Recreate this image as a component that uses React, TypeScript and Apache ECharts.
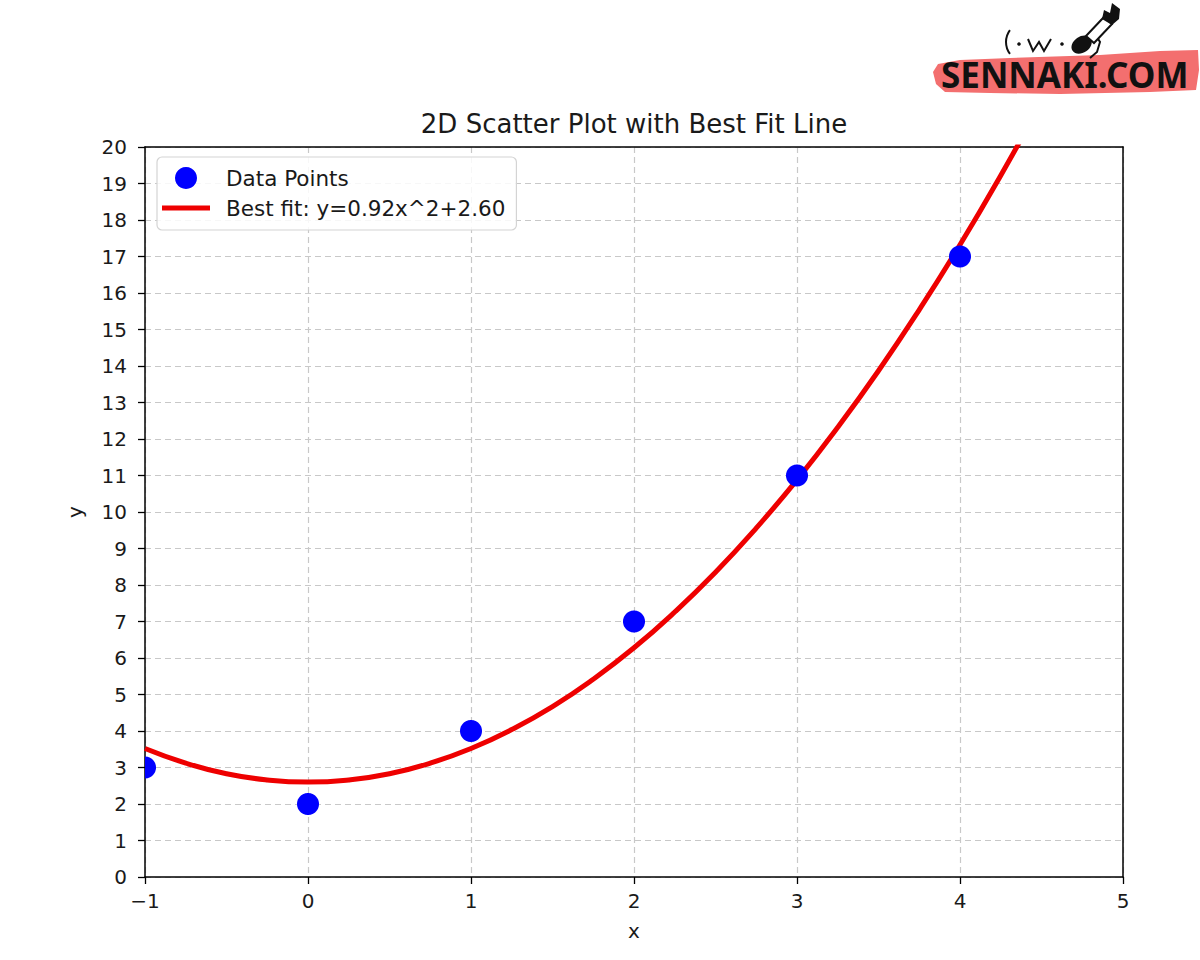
import React, { useEffect, useRef } from "react";
import * as echarts from "echarts";

// Scatter data
const pointX = [-1, 0, 1, 2, 3, 4];
const pointY = [3, 2, 4, 7, 11, 17];

// Best-fit curve
const fitX = [-1, -0.75, -0.5, -0.25, 0, 0.25, 0.5, 0.75, 1, 1.25, 1.5, 1.75, 2, 2.25, 2.5, 2.75, 3, 3.25, 3.5, 3.75, 4, 4.25, 4.5];
const fitY = [3.52, 3.12, 2.83, 2.66, 2.6, 2.66, 2.83, 3.12, 3.52, 4.04, 4.67, 5.42, 6.28, 7.26, 8.35, 9.56, 10.88, 12.32, 13.87, 15.54, 17.32, 19.22, 21.23];

// Axis ranges
const X_MIN = -1;
const X_MAX = 5;
const Y_MIN = 0;
const Y_MAX = 20;

const TITLE = "2D Scatter Plot with Best Fit Line";
const SERIES_POINTS = "Data Points";
const SERIES_FIT = "Best fit: y=0.92x^2+2.60";
const X_NAME = "x";
const Y_NAME = "y";

const FONT = "DejaVu Sans";
const TXT = "#1a1a1a";

export default function App() {
  const ref = useRef<HTMLDivElement>(null);
  useEffect(() => {
    document.body.style.margin = "0";
    const chart = echarts.init(ref.current!, null, { renderer: "svg" });
    const fmt = (v: number) => (v < 0 ? "\u2212" + Math.abs(v) : String(v));
    const axisCommon = {
      axisLine: { show: true, onZero: false, lineStyle: { color: "#000", width: 1.5 } },
      axisTick: { show: true, length: 7, lineStyle: { color: "#000", width: 1.3 } },
      splitLine: { show: true, lineStyle: { color: "#c8c8c8", type: [6, 4], width: 1.2 } },
      nameTextStyle: { color: TXT, fontSize: 20, fontFamily: FONT },
      nameLocation: "middle",
    };
    const frameAxis = {
      type: "value",
      axisLine: { show: true, onZero: false, lineStyle: { color: "#000", width: 1.5 } },
      axisTick: { show: false },
      axisLabel: { show: false },
      splitLine: { show: false },
    };
    chart.setOption({
      animation: false,
      backgroundColor: "#fff",
      textStyle: { fontFamily: FONT },
      grid: { left: 145, top: 147, width: 978, height: 730 },
      xAxis: [
        {
          type: "value", min: X_MIN, max: X_MAX, interval: 1, name: X_NAME, nameGap: 44, ...axisCommon,
          axisLabel: { color: TXT, fontSize: 20, fontFamily: FONT, margin: 14, formatter: fmt },
        },
        { ...frameAxis, position: "top", min: X_MIN, max: X_MAX },
      ],
      yAxis: [
        {
          type: "value", min: Y_MIN, max: Y_MAX, interval: 1, name: Y_NAME, nameGap: 60, ...axisCommon,
          axisLabel: { color: TXT, fontSize: 20, fontFamily: FONT, margin: 18, formatter: fmt },
        },
        { ...frameAxis, position: "right", min: Y_MIN, max: Y_MAX },
      ],
      legend: {
        orient: "vertical",
        left: 157, top: 157,
        padding: [10, 11, 11, 5],
        itemWidth: 48, itemHeight: 22, itemGap: 8,
        backgroundColor: "rgba(255,255,255,0.85)",
        borderColor: "#d4d4d4", borderWidth: 1.2, borderRadius: 5,
        textStyle: { color: TXT, fontSize: 21.5, fontFamily: FONT, padding: [0, 0, 0, 11] },
        data: [
          { name: SERIES_POINTS, icon: "circle", itemStyle: { color: "#0000ff" } },
          { name: SERIES_FIT, icon: "path://M0,0H48V5H0Z", itemStyle: { color: "#ee0000" } },
        ],
      },
      series: [
        {
          name: SERIES_FIT,
          type: "line",
          data: fitX.map((x, i) => [x, fitY[i]]),
          smooth: true,
          symbol: "none",
          clip: true,
          lineStyle: { color: "#ee0000", width: 5 },
          itemStyle: { color: "#ee0000" },
          z: 2,
        },
        {
          name: SERIES_POINTS,
          type: "custom",
          clip: true,
          z: 3,
          itemStyle: { color: "#0000ff" },
          encode: { x: 0, y: 1 },
          data: pointX.map((x, i) => [x, pointY[i]]),
          renderItem: (params: any, api: any) => {
            const p = api.coord([api.value(0), api.value(1)]);
            const lo = api.coord([X_MIN, Y_MAX]);
            const hi = api.coord([X_MAX, Y_MIN]);
            const r = 11;
            const pts: number[][] = [];
            const n = 72;
            for (let k = 0; k < n; k++) {
              const a = (k / n) * Math.PI * 2;
              const x = Math.min(Math.max(p[0] + r * Math.cos(a), lo[0]), hi[0]);
              const y = Math.min(Math.max(p[1] + r * Math.sin(a), lo[1]), hi[1]);
              pts.push([x, y]);
            }
            return { type: "polygon", shape: { points: pts }, style: { fill: "#0000ff" } };
          },
        },
      ],
      graphic: [
        { type: "text", x: 634, y: 124, style: { text: TITLE, fontSize: 26, fontFamily: FONT, fill: TXT, textAlign: "center", textVerticalAlign: "middle" } },
        // logo brush band
        {
          type: "polygon",
          shape: { points: [[938, 64], [960, 60], [1010, 58], [1100, 55], [1160, 51], [1198, 50], [1199, 70], [1196, 90], [1150, 92], [1060, 94], [990, 93], [945, 92], [936, 84], [933, 72]] },
          style: { fill: "#f36f6f" },
          z: 10,
        },
        { type: "text", x: 941, y: 92, style: { text: "SENNAKI.COM", fontSize: 35, fontWeight: "bold", fontFamily: "Noto Sans", fill: "#111", textVerticalAlign: "bottom" }, z: 11 },
        // kaomoji
        { type: "arc", shape: { cx: 1026, cy: 42, r: 20, startAngle: 2.5, endAngle: 3.78, clockwise: true }, style: { stroke: "#111", lineWidth: 2, fill: null }, z: 11 },
        { type: "circle", shape: { cx: 1019, cy: 44, r: 1.8 }, style: { fill: "#111" }, z: 11 },
        { type: "polyline", shape: { points: [[1028, 39], [1033, 51], [1039, 42], [1044, 51], [1051, 39]] }, style: { stroke: "#111", lineWidth: 2, fill: null }, z: 11 },
        { type: "circle", shape: { cx: 1062, cy: 44, r: 1.8 }, style: { fill: "#111" }, z: 11 },
        { type: "ellipse", shape: { cx: 1082, cy: 45, rx: 11, ry: 8 }, rotation: 0.6, originX: 1082, originY: 45, style: { fill: "#111" }, z: 11 },
        { type: "polyline", shape: { points: [[1093, 31], [1100, 42], [1097, 52], [1090, 58]] }, style: { stroke: "#111", lineWidth: 2, fill: null }, z: 11 },
        { type: "polygon", shape: { points: [[1086, 36], [1104, 17], [1112, 24], [1094, 43]] }, style: { fill: "#fff", stroke: "#111", lineWidth: 2 }, z: 11 },
        { type: "polygon", shape: { points: [[1102, 19], [1104, 10], [1110, 13], [1112, 3], [1120, 9], [1119, 19], [1112, 25]] }, style: { fill: "#111" }, z: 11 },
      ],
    });
    return () => chart.dispose();
  }, []);
  return <div ref={ref} style={{ width: 1200, height: 960 }} />;
}
